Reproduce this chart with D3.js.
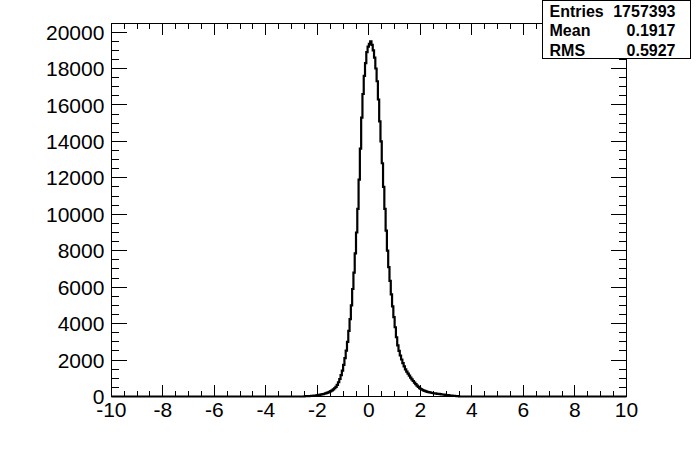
<!DOCTYPE html>
<html>
<head>
<meta charset="utf-8">
<script src="https://cdn.jsdelivr.net/npm/d3@7/dist/d3.min.js"></script>
<style>
  html, body { margin: 0; padding: 0; background: #fff; }
  svg { display: block; }
  text { font-family: "Liberation Sans", Arial, Helvetica, sans-serif; fill: #000; }
</style>
</head>
<body>
<div id="chart"></div>
<script>
// Histogram binning (only the populated region is listed, everything else is empty)
const xRange = [-10, 10];
const binLow = -2.5;
const binWidth = 0.05;
const counts = [
  12, 15, 18, 22, 27, 32, 38, 45, 53, 62,
  72, 84, 98, 113, 130, 149, 170, 194, 222, 255,
  295, 340, 392, 452, 525, 640, 780, 960, 1170, 1420,
  1730, 2100, 2520, 3000, 3600, 4250, 5000, 5900, 6800, 7850,
  9000, 10300, 11900, 13600, 15300, 16600, 17600, 18300, 18900, 19200,
  19350, 19490, 19300, 19000, 18600, 18000, 17300, 16300, 15100, 14000,
  12800, 11500, 10300, 9100, 8000, 7100, 6350, 5600, 4950, 4350,
  3800, 3250, 2800, 2500, 2250, 2030, 1830, 1650, 1490, 1360,
  1250, 1140, 1040, 940, 850, 760, 680, 600, 530, 460,
  410, 370, 335, 305, 280, 258, 238, 220, 204, 190,
  178, 167, 157, 147, 138, 129, 120, 110, 100, 90,
  80, 70, 60, 52, 45, 38, 32, 27, 22, 18
];
const xTicks = [-10, -8, -6, -4, -2, 0, 2, 4, 6, 8, 10];
const yTicks = [0, 2000, 4000, 6000, 8000, 10000, 12000, 14000, 16000, 18000, 20000];
const statLabels = ['Entries', 'Mean', 'RMS'];
const statValues = ['1757393', '0.1917', '0.5927'];

const W = 696, H = 472;
// pad margins as fractions of the canvas (left .16, right .10, top .05, bottom .16)
const frame = { left: W * 0.16, right: W * 0.90, top: H * 0.05, bottom: H * 0.84 };

const svg = d3.select('#chart').append('svg')
  .attr('width', W)
  .attr('height', H);

const yMax = d3.max(counts) * 1.05;
const x = d3.scaleLinear().domain(xRange).range([frame.left, frame.right]);
const y = d3.scaleLinear().domain([0, yMax]).range([frame.bottom, frame.top]);

const fw = frame.right - frame.left;
const fh = frame.bottom - frame.top;
const xMajorLen = fh * 0.03, yMajorLen = fw * 0.03;

// ── Histogram outline ────────────────────────────────────────────────
const pts = [{ x: xRange[0], v: 0 }];
counts.forEach((c, i) => pts.push({ x: binLow + i * binWidth, v: c }));
pts.push({ x: binLow + counts.length * binWidth, v: 0 });
pts.push({ x: xRange[1], v: 0 });

svg.append('path')
  .datum(pts)
  .attr('fill', 'none')
  .attr('stroke', '#000')
  .attr('stroke-width', 2.2)
  .attr('d', d3.line().x(d => x(d.x)).y(d => y(d.v)).curve(d3.curveStepAfter));

// ── Frame and ticks on all four sides ────────────────────────────────
const g = svg.append('g').attr('stroke', '#000').attr('stroke-width', 1)
  .attr('shape-rendering', 'crispEdges');

g.append('rect')
  .attr('x', frame.left).attr('y', frame.top)
  .attr('width', fw).attr('height', fh)
  .attr('fill', 'none');

const xMinor = d3.range(xRange[0], xRange[1] + 0.001, 0.5);
xMinor.forEach(v => {
  const major = Math.abs(v % 2) < 1e-9;
  const len = major ? xMajorLen : xMajorLen / 2;
  g.append('line').attr('x1', x(v)).attr('x2', x(v))
    .attr('y1', frame.bottom).attr('y2', frame.bottom - len);
  g.append('line').attr('x1', x(v)).attr('x2', x(v))
    .attr('y1', frame.top).attr('y2', frame.top + len);
});

const yMinor = d3.range(0, yMax, 500);
yMinor.forEach(v => {
  const major = v % 2000 === 0;
  const len = major ? yMajorLen : yMajorLen / 2;
  g.append('line').attr('y1', y(v)).attr('y2', y(v))
    .attr('x1', frame.left).attr('x2', frame.left + len);
  g.append('line').attr('y1', y(v)).attr('y2', y(v))
    .attr('x1', frame.right).attr('x2', frame.right - len);
});

// ── Tick labels ──────────────────────────────────────────────────────
svg.append('g').selectAll('text')
  .data(xTicks)
  .join('text')
  .attr('x', d => x(d))
  .attr('y', frame.bottom + 21)
  .attr('text-anchor', 'middle')
  .style('font-size', '21px')
  .text(d => d);

svg.append('g').selectAll('text')
  .data(yTicks)
  .join('text')
  .attr('x', frame.left - 7)
  .attr('y', d => y(d))
  .attr('dy', '0.36em')
  .attr('text-anchor', 'end')
  .style('font-size', '21px')
  .text(d => d);

// ── Stats box ────────────────────────────────────────────────────────
const box = { x: 542.5, y: 0.5, w: 148, h: 58 };
svg.append('rect')
  .attr('x', box.x).attr('y', box.y)
  .attr('width', box.w).attr('height', box.h)
  .attr('fill', '#fff').attr('stroke', '#000').attr('stroke-width', 1);

const rowH = box.h / statLabels.length;
statLabels.forEach((lab, i) => {
  const by = box.y + rowH * (i + 1) - 3;
  svg.append('text')
    .attr('x', box.x + 7).attr('y', by)
    .style('font-size', '16px').style('font-weight', 'bold')
    .text(lab);
  svg.append('text')
    .attr('x', box.x + box.w - 15).attr('y', by)
    .attr('text-anchor', 'end')
    .style('font-size', '16px').style('font-weight', 'bold')
    .text(statValues[i]);
});
</script>
</body>
</html>
